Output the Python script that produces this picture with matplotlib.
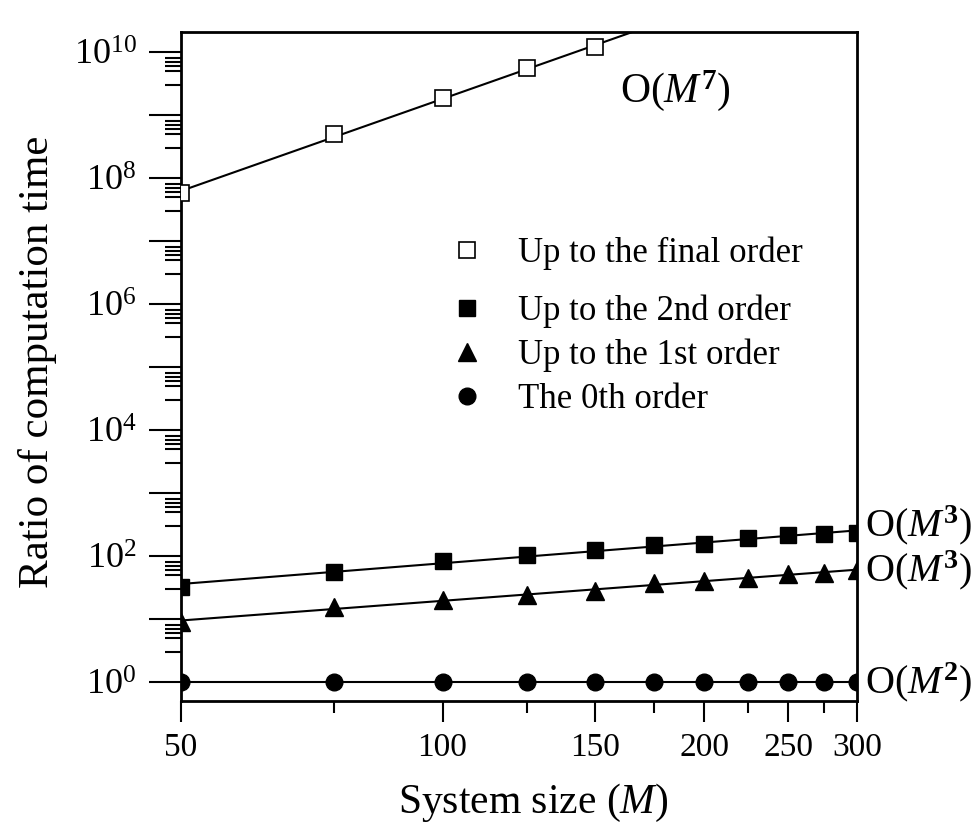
import numpy as np
import matplotlib
matplotlib.use('Agg')
import matplotlib.pyplot as plt
from matplotlib.lines import Line2D
from matplotlib.ticker import NullFormatter, FixedLocator

# ---------------- data ----------------
sizes_final = [50, 75, 100, 125, 150]
ratio_final = [5.8e7, 5.0e8, 1.86e9, 5.6e9, 1.2e10]

sizes = [50, 75, 100, 125, 150, 175, 200, 225, 250, 275, 300]
ratio_2nd = [32.6, 56, 84, 104, 124, 150, 155, 193, 215, 224, 234]
ratio_1st = [9.06, 15.3, 20.0, 24.0, 28.1, 36.9, 40.5, 44.3, 51.8, 54.3, 60.0]
ratio_0th = [1.0, 1.0, 1.0, 1.0, 1.0, 1.0, 1.0, 1.0, 1.0, 1.0, 1.0]

xticks_major = [50, 100, 150, 200, 250, 300]
xtick_labels = ['50', '100', '150', '200', '250', '300']
xticks_minor = [75, 125, 175, 225, 275]
ytick_exponents = list(range(0, 11))
ytick_labels = [f'$10^{{{e}}}$' if e % 2 == 0 else '' for e in ytick_exponents]
ytick_minor_subs = [3, 5, 6, 7, 8]

legend_labels = ['Up to the final order', 'Up to the 2nd order',
                 'Up to the 1st order', 'The 0th order']
scaling_labels = [r'O($\mathit{M}^{\mathbf{7}}$)', r'O($\mathit{M}^{\mathbf{3}}$)',
                  r'O($\mathit{M}^{\mathbf{3}}$)', r'O($\mathit{M}^{\mathbf{2}}$)']

# ---------------- style ----------------
plt.rcParams['font.family'] = ['Liberation Serif', 'DejaVu Serif']
plt.rcParams['mathtext.fontset'] = 'custom'
plt.rcParams['mathtext.rm'] = 'Liberation Serif'
plt.rcParams['mathtext.it'] = 'Liberation Serif:italic'
plt.rcParams['mathtext.bf'] = 'Liberation Serif:bold'

fig = plt.figure(figsize=(9.78, 8.23), dpi=100)
ax = fig.add_axes([181/978, 1 - 701/823, (857-181)/978, (701-32)/823])
ax.set_xscale('log')
ax.set_yscale('log')
ax.set_xlim(50, 300)
ax.set_ylim(0.5, 2.1e10)


def fit_line(x, y, xr):
    p = np.polyfit(np.log10(x), np.log10(y), 1)
    return 10 ** np.polyval(p, np.log10(xr))


xr = np.geomspace(50, 300, 300)
lw = 1.5
mk = dict(linestyle='none', color='k', mec='k', zorder=3)

ax.plot(xr, fit_line(sizes_final, ratio_final, xr), '-', color='k', lw=lw)
ax.plot(xr, fit_line(sizes, ratio_2nd, xr), '-', color='k', lw=lw)
ax.plot(xr, fit_line(sizes, ratio_1st, xr), '-', color='k', lw=lw)
ax.plot(xr, fit_line(sizes, ratio_0th, xr), '-', color='k', lw=lw)

st_final = dict(marker='s', ms=11, mfc='white', mew=1.2)
st_2nd = dict(marker='s', ms=11, mfc='k')
st_1st = dict(marker='^', ms=13, mfc='k')
st_0th = dict(marker='o', ms=12, mfc='k')

ax.plot(sizes_final, ratio_final, **mk, **st_final)
ax.plot(sizes, ratio_2nd, **mk, **st_2nd)
ax.plot(sizes, ratio_1st, **mk, **st_1st)
ax.plot(sizes, ratio_0th, **mk, **st_0th)

# ---------------- axes ----------------
ax.xaxis.set_major_locator(FixedLocator(xticks_major))
ax.set_xticklabels(xtick_labels)
ax.xaxis.set_minor_locator(FixedLocator(xticks_minor))
ax.xaxis.set_minor_formatter(NullFormatter())

yt = [10.0 ** e for e in ytick_exponents]
ax.set_yticks(yt)
ax.set_yticklabels(ytick_labels)
ax.yaxis.set_minor_locator(FixedLocator([s * 10.0 ** e for e in ytick_exponents[:-1]
                                         for s in ytick_minor_subs]))
ax.yaxis.set_minor_formatter(NullFormatter())

ax.tick_params(axis='x', which='major', direction='out', length=15, width=1.5,
               labelsize=24, pad=8, top=False)
ax.tick_params(axis='x', which='minor', direction='out', length=8.5, width=1.5, top=False)
ax.tick_params(axis='y', which='major', direction='out', length=23, width=1.5,
               labelsize=26, pad=9, right=False)
ax.tick_params(axis='y', which='minor', direction='out', length=11.5, width=1.5, right=False)
for s in ax.spines.values():
    s.set_linewidth(2)

ax.set_xlabel(r'System size ($\mathit{M}$)', fontsize=30, labelpad=13)
ax.xaxis.label.set_x(0.521)
ax.set_ylabel('Ratio of computation time', fontsize=31, labelpad=12)
ax.yaxis.label.set_y(0.507)

# ---------------- legend ----------------
h_final = Line2D([], [], **mk, **st_final)
h_2nd = Line2D([], [], **mk, **st_2nd)
h_1st = Line2D([], [], **mk, **st_1st)
h_0th = Line2D([], [], **mk, **st_0th)
common = dict(loc='center left', frameon=False, fontsize=25, handlelength=1.0,
              handletextpad=0.95, borderpad=0, borderaxespad=0, numpoints=1)
leg1 = ax.legend([h_final], legend_labels[:1], bbox_to_anchor=(0.398, 0.669), **common)
ax.add_artist(leg1)
ax.legend([h_2nd, h_1st, h_0th], legend_labels[1:], bbox_to_anchor=(0.398, 0.517),
          labelspacing=0.31, **common)

# ---------------- scaling annotations ----------------
ax.text(0.649, 0.913, scaling_labels[0], transform=ax.transAxes, fontsize=30,
        ha='left', va='center')
ends = [fit_line(sizes, r, np.array([300.0]))[0] for r in (ratio_2nd, ratio_1st, ratio_0th)]
offsets = [4, 0, 0]
for lab, yv, dy in zip(scaling_labels[1:], ends, offsets):
    ax.annotate(lab, xy=(300, yv), xytext=(6, dy), textcoords='offset points',
                fontsize=29, ha='left', va='center', annotation_clip=False)

fig.savefig('out.png', dpi=100)
